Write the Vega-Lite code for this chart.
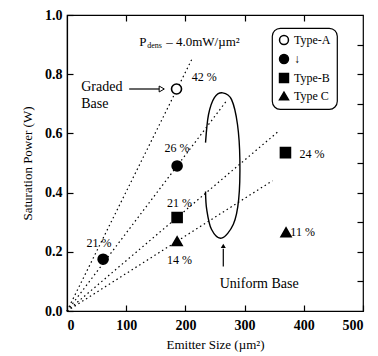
{
  "$schema": "https://vega.github.io/schema/vega-lite/v6.json",
  "width": 296,
  "height": 296,
  "autosize": {"type": "none"},
  "padding": {"left": 67, "top": 15, "right": 15, "bottom": 45},
  "background": "white",
  "config": {
    "font": "Liberation Serif",
    "view": {"stroke": "black", "strokeWidth": 1.2},
    "axis": {
      "domainColor": "black",
      "domainWidth": 1.2,
      "tickColor": "black",
      "tickWidth": 1.2,
      "tickSize": -6,
      "grid": false,
      "labelFont": "Liberation Serif",
      "labelFontSize": 14,
      "labelColor": "black",
      "labelFontWeight": "bold",
      "titleFont": "Liberation Serif",
      "titleFontSize": 13,
      "titleFontWeight": "normal",
      "titleColor": "black"
    },
    "legend": {
      "orient": "none",
      "legendX": 205,
      "legendY": 13,
      "strokeColor": "black",
      "strokeWidth": 1.2,
      "cornerRadius": 8,
      "padding": 6,
      "rowPadding": 3,
      "labelFont": "Liberation Serif",
      "labelFontSize": 12,
      "labelColor": "black",
      "symbolSize": 80
    },
    "text": {"font": "Liberation Serif", "fontSize": 13, "color": "black"}
  },
  "datasets": {
    "lines": [
      {"line": "L1", "x": 0, "y": 0}, {"line": "L1", "x": 212, "y": 0.855},
      {"line": "L2", "x": 0, "y": 0}, {"line": "L2", "x": 271, "y": 0.714},
      {"line": "L3", "x": 0, "y": 0}, {"line": "L3", "x": 356, "y": 0.605},
      {"line": "L4", "x": 0, "y": 0}, {"line": "L4", "x": 347, "y": 0.44}
    ],
    "loop": [
      {"i": 1, "x": 234, "y": 0.569}, {"i": 2, "x": 239, "y": 0.663}, {"i": 3, "x": 249, "y": 0.721},
      {"i": 4, "x": 263, "y": 0.737}, {"i": 5, "x": 278, "y": 0.714}, {"i": 6, "x": 288, "y": 0.63},
      {"i": 7, "x": 292, "y": 0.512}, {"i": 8, "x": 290, "y": 0.377}, {"i": 9, "x": 281, "y": 0.293},
      {"i": 10, "x": 261, "y": 0.246}, {"i": 11, "x": 244, "y": 0.276}, {"i": 12, "x": 236, "y": 0.343},
      {"i": 13, "x": 234, "y": 0.404}
    ],
    "points": [
      {"x": 185, "y": 0.75, "cat": "A_graded"},
      {"x": 186, "y": 0.49, "cat": "A_uniform"},
      {"x": 61, "y": 0.175, "cat": "A_uniform"},
      {"x": 186, "y": 0.316, "cat": "B"},
      {"x": 369, "y": 0.535, "cat": "B"},
      {"x": 186, "y": 0.236, "cat": "C"},
      {"x": 370, "y": 0.266, "cat": "C"}
    ],
    "labels": [
      {"x": 232, "y": 0.79, "t": "42 %"},
      {"x": 186, "y": 0.55, "t": "26 %"},
      {"x": 54, "y": 0.23, "t": "21 %"},
      {"x": 190, "y": 0.364, "t": "21 %"},
      {"x": 190, "y": 0.172, "t": "14 %"},
      {"x": 414, "y": 0.532, "t": "24 %"},
      {"x": 398, "y": 0.266, "t": "11 %"}
    ],
    "notes": [
      {"x": 24, "y": 0.758, "t": "Graded"},
      {"x": 24, "y": 0.7, "t": "Base"},
      {"x": 258, "y": 0.09, "t": "Uniform Base"}
    ],
    "arrow": [{"x": 105, "x2": 157, "y": 0.75}],
    "arrowhead": [{"x": 160, "y": 0.75}],
    "uarrow": [{"x": 264, "y": 0.15, "y2": 0.21}],
    "uhead": [{"x": 264, "y": 0.22}],
    "plabel": [{"x": 122, "y": 0.91}]
  },
  "layer": [
    {
      "data": {"name": "lines"},
      "mark": {"type": "line", "color": "black", "strokeWidth": 1.2, "strokeDash": [1.5, 3]},
      "encoding": {
        "x": {"field": "x", "type": "quantitative",
              "scale": {"domain": [0, 500], "nice": false},
              "axis": {"values": [0, 100, 200, 300, 400, 500], "title": "Emitter Size (µm²)", "labelPadding": 13, "titlePadding": 6}},
        "y": {"field": "y", "type": "quantitative",
              "scale": {"domain": [0, 1], "nice": false},
              "axis": {"values": [0, 0.2, 0.4, 0.6, 0.8, 1.0], "format": ".1f", "title": "Saturation Power (W)", "labelPadding": 11, "titlePadding": 10}},
        "detail": {"field": "line"}
      }
    },
    {
      "data": {"name": "loop"},
      "mark": {"type": "line", "color": "black", "strokeWidth": 1.4, "interpolate": "cardinal"},
      "encoding": {
        "x": {"field": "x", "type": "quantitative", "axis": null},
        "y": {"field": "y", "type": "quantitative", "axis": null},
        "order": {"field": "i"}
      }
    },
    {
      "data": {"name": "arrow"},
      "mark": {"type": "rule", "color": "black", "strokeWidth": 1.2},
      "encoding": {
        "x": {"field": "x", "type": "quantitative", "axis": null},
        "x2": {"field": "x2"},
        "y": {"field": "y", "type": "quantitative", "axis": null}
      }
    },
    {
      "data": {"name": "arrowhead"},
      "mark": {"type": "point", "shape": "triangle-right", "size": 35, "fill": "white", "stroke": "black", "strokeWidth": 1, "opacity": 1},
      "encoding": {
        "x": {"field": "x", "type": "quantitative", "axis": null},
        "y": {"field": "y", "type": "quantitative", "axis": null}
      }
    },
    {
      "data": {"name": "uarrow"},
      "mark": {"type": "rule", "color": "black", "strokeWidth": 1.2},
      "encoding": {
        "x": {"field": "x", "type": "quantitative", "axis": null},
        "y": {"field": "y", "type": "quantitative", "axis": null},
        "y2": {"field": "y2"}
      }
    },
    {
      "data": {"name": "uhead"},
      "mark": {"type": "point", "shape": "triangle-up", "size": 25, "filled": true, "color": "black", "opacity": 1},
      "encoding": {
        "x": {"field": "x", "type": "quantitative", "axis": null},
        "y": {"field": "y", "type": "quantitative", "axis": null}
      }
    },
    {
      "data": {"name": "points"},
      "mark": {"type": "point", "stroke": "black", "strokeWidth": 1.6, "opacity": 1, "size": 100},
      "encoding": {
        "x": {"field": "x", "type": "quantitative", "axis": null},
        "y": {"field": "y", "type": "quantitative", "axis": null},
        "shape": {"field": "cat", "type": "nominal",
                  "scale": {"domain": ["A_graded", "A_uniform", "B", "C"], "range": ["circle", "circle", "square", "triangle-up"]},
                  "legend": {"title": null,
                             "encode": {
                               "symbols": {"update": {"stroke": {"value": "black"}, "strokeWidth": {"value": 1.5}}},
                               "labels": {"update": {"dx": {"signal": "datum.value == 'A_uniform' ? 19 : 0"}, "fontWeight": {"signal": "datum.value == 'A_uniform' ? 'bold' : 'normal'"}}}
                             },
                             "labelExpr": "datum.value == 'A_graded' ? 'Type-A' : datum.value == 'A_uniform' ? '↓' : datum.value == 'B' ? 'Type-B' : 'Type C'"}},
        "fill": {"field": "cat", "type": "nominal",
                 "scale": {"domain": ["A_graded", "A_uniform", "B", "C"], "range": ["white", "black", "black", "black"]},
                 "legend": {"title": null,
                            "encode": {
                              "symbols": {"update": {"stroke": {"value": "black"}, "strokeWidth": {"value": 1.5}}},
                              "labels": {"update": {"dx": {"signal": "datum.value == 'A_uniform' ? 19 : 0"}, "fontWeight": {"signal": "datum.value == 'A_uniform' ? 'bold' : 'normal'"}}}
                            },
                            "labelExpr": "datum.value == 'A_graded' ? 'Type-A' : datum.value == 'A_uniform' ? '↓' : datum.value == 'B' ? 'Type-B' : 'Type C'"}}
      }
    },
    {
      "data": {"name": "labels"},
      "mark": {"type": "text", "fontSize": 12},
      "encoding": {
        "x": {"field": "x", "type": "quantitative", "axis": null},
        "y": {"field": "y", "type": "quantitative", "axis": null},
        "text": {"field": "t"}
      }
    },
    {
      "data": {"name": "notes"},
      "mark": {"type": "text", "fontSize": 14, "align": "left"},
      "encoding": {
        "x": {"field": "x", "type": "quantitative", "axis": null},
        "y": {"field": "y", "type": "quantitative", "axis": null},
        "text": {"field": "t"}
      }
    },
    {
      "data": {"name": "plabel"},
      "mark": {"type": "text", "fontSize": 13, "align": "left", "text": "P"},
      "encoding": {
        "x": {"field": "x", "type": "quantitative", "axis": null},
        "y": {"field": "y", "type": "quantitative", "axis": null}
      }
    },
    {
      "data": {"name": "plabel"},
      "mark": {"type": "text", "fontSize": 8, "align": "left", "text": "dens", "dx": 8, "dy": 4},
      "encoding": {
        "x": {"field": "x", "type": "quantitative", "axis": null},
        "y": {"field": "y", "type": "quantitative", "axis": null}
      }
    },
    {
      "data": {"name": "plabel"},
      "mark": {"type": "text", "fontSize": 13, "align": "left", "text": "– 4.0mW/µm²", "dx": 27},
      "encoding": {
        "x": {"field": "x", "type": "quantitative", "axis": null},
        "y": {"field": "y", "type": "quantitative", "axis": null}
      }
    },
    {
      "data": {"name": "lines"},
      "mark": {"type": "point", "opacity": 0},
      "encoding": {
        "x": {"field": "x", "type": "quantitative",
              "axis": {"orient": "top", "values": [100, 200, 300, 400], "labels": false, "title": null, "domain": false}},
        "y": {"field": "y", "type": "quantitative",
              "axis": {"orient": "right", "values": [0.1, 0.2, 0.3, 0.4, 0.5, 0.6, 0.7, 0.8, 0.9], "labels": false, "title": null, "domain": false}}
      }
    }
  ],
  "resolve": {"axis": {"x": "independent", "y": "independent"}}
}
